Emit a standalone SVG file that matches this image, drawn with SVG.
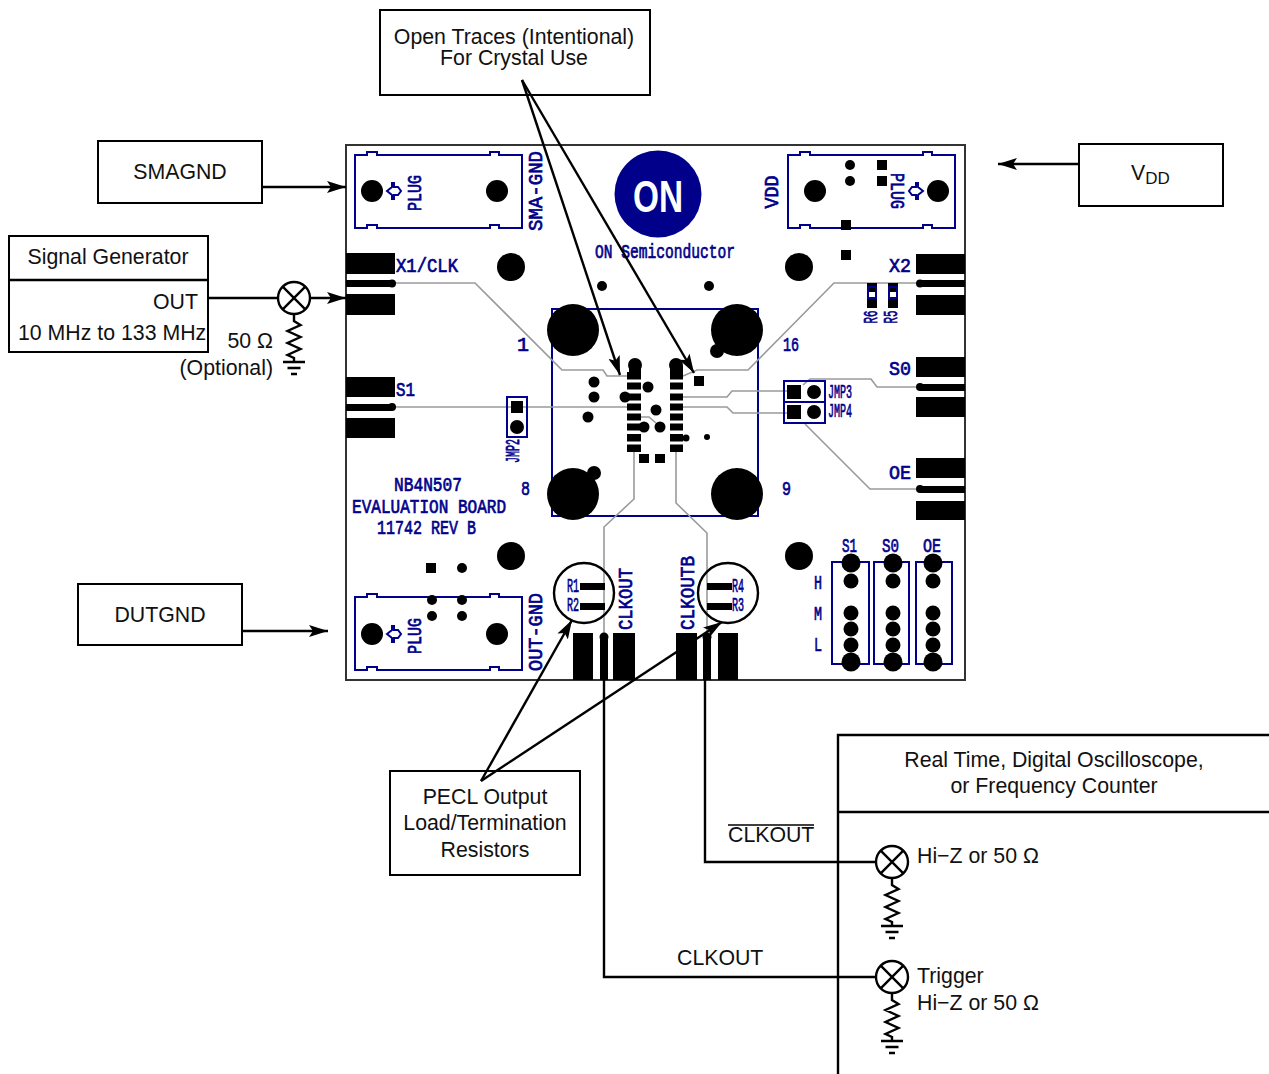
<svg xmlns="http://www.w3.org/2000/svg" xmlns:xlink="http://www.w3.org/1999/xlink" width="1269" height="1074" viewBox="0 0 1269 1074">
<style>
.box{fill:#fff;stroke:#000;stroke-width:2}
.ln{fill:none;stroke:#000;stroke-width:2.4}
.t{font-family:"Liberation Sans",Arial,sans-serif;font-size:21.300px;fill:#111}
.m{text-anchor:middle}
.e{text-anchor:end}
.b{font-family:"Liberation Mono","DejaVu Sans Mono",monospace;fill:#00008b;font-size:20px;stroke:#00008b;stroke-width:.7}
.bm{text-anchor:middle}
.nv{fill:none;stroke:#00008b;stroke-width:2}
.tr{fill:none;stroke:#9a9a9a;stroke-width:1.6}
.k{fill:#000}
.sy{fill:#fff;stroke:#000;stroke-width:2.4}
</style>
<defs>
<marker id="ah" markerUnits="userSpaceOnUse" markerWidth="20" markerHeight="12" refX="19" refY="6" orient="auto"><path d="M0 0L19 6L0 12L4 6Z" fill="#000"/></marker>
<g id="res"><path class="ln" d="M0 0V7L6.500 11L-6.500 17L6.500 23L-6.500 29L6.500 35L-6.500 41L0 44V48M-11 48H11M-6.500 54H6.500M-3 60H3"/></g>
<g id="cross"><circle class="sy" r="16"/><path class="ln" d="M-11.300 -11.300L11.300 11.300M-11.300 11.300L11.300 -11.300"/></g>
<path id="sma" class="nv" d="M0 0H12V-3H22V0H135V-3H144V0H167V73H144V70H135V73H22V70H12V73H0Z"/>
<path id="dia" class="nv" d="M-6 0L-1 -4V-8H1V-4H5L8 0L5 4H1V8H-1V4Z"/>
</defs>
<g id="board">
<rect x="346" y="145" width="619" height="535" fill="#fff" stroke="#333" stroke-width="2"/>
<rect x="552" y="309" width="206" height="207" class="nv"/>
<g class="tr">
<path d="M394 283H475L562 370H603L607 376H627"/>
<path d="M916 283H834L748 370H697L683 376"/>
<path d="M394 407H627"/>
<path d="M683 397H727L732 391H790"/>
<path d="M683 407H727L733 413H790"/>
<path d="M916 387H877L871 379H810L803 385"/>
<path d="M916 489H870L805 424"/>
<path d="M641 417H649L656 423"/>
<path d="M634 448V499L604 527V640"/>
<path d="M676 448V503L707 533V640"/>
</g>
<g id="pads" class="k">
<rect x="346" y="253" width="49" height="21"/><rect x="346" y="280" width="46" height="7"/><circle cx="392" cy="283.500" r="4"/><rect x="346" y="294" width="49" height="21"/>
<rect x="346" y="377" width="49" height="20"/><rect x="346" y="404" width="46" height="7"/><circle cx="392" cy="407" r="4"/><rect x="346" y="418" width="49" height="20"/>
<rect x="916" y="254" width="49" height="20"/><rect x="920" y="280" width="45" height="7"/><circle cx="920" cy="283.500" r="4"/><rect x="916" y="295" width="49" height="20"/>
<rect x="916" y="357" width="49" height="20"/><rect x="920" y="384" width="45" height="7"/><circle cx="920" cy="387" r="4"/><rect x="916" y="397" width="49" height="20"/>
<rect x="916" y="458" width="49" height="20"/><rect x="920" y="486" width="45" height="7"/><circle cx="920" cy="489" r="4"/><rect x="916" y="501" width="49" height="19"/>
<rect x="573" y="633" width="20" height="47"/><rect x="600" y="638" width="8" height="42"/><circle cx="604" cy="637" r="4.500"/><rect x="613" y="633" width="22" height="47"/>
<rect x="676" y="633" width="21" height="47"/><rect x="703" y="638" width="8" height="42"/><circle cx="707" cy="637" r="4.500"/><rect x="718" y="633" width="20" height="47"/>
</g>
<g id="holes" class="k">
<circle cx="573" cy="330" r="26"/><circle cx="737" cy="330" r="26"/><circle cx="717" cy="351" r="7"/>
<circle cx="573" cy="494" r="26"/><circle cx="594" cy="473" r="7"/><circle cx="737" cy="494" r="26"/>
<circle cx="511" cy="267" r="14"/><circle cx="799" cy="267" r="14"/><circle cx="511" cy="556" r="14"/><circle cx="799" cy="556" r="14"/>
<circle cx="602" cy="286" r="5"/><circle cx="709" cy="286" r="5"/>
</g>
<g id="chip" class="k">
<rect x="627" y="372" width="14" height="7.500"/><rect x="627" y="382.500" width="14" height="7"/><rect x="627" y="393.500" width="14" height="7"/><rect x="627" y="403.500" width="14" height="7"/><rect x="627" y="413.500" width="14" height="7"/><rect x="627" y="423.500" width="14" height="7"/><rect x="627" y="434" width="14" height="7.500"/><rect x="627" y="444.500" width="14" height="7.500"/>
<rect x="670" y="372" width="13" height="7.500"/><rect x="670" y="382.500" width="13" height="7"/><rect x="670" y="393.500" width="13" height="7"/><rect x="670" y="403.500" width="13" height="7"/><rect x="670" y="413.500" width="13" height="7"/><rect x="670" y="423.500" width="13" height="7"/><rect x="670" y="434" width="13" height="7.500"/><rect x="670" y="444.500" width="13" height="7.500"/>
<circle cx="635" cy="365" r="7"/><circle cx="676" cy="365" r="7"/>
<rect x="629" y="366" width="12" height="8"/><rect x="670" y="366" width="13" height="8"/>
<circle cx="594" cy="382" r="5.500"/><circle cx="594" cy="397" r="5.500"/><circle cx="588" cy="417" r="5.500"/><circle cx="625" cy="397" r="5.500"/><circle cx="648" cy="387" r="5.500"/><circle cx="656" cy="410" r="5.500"/><circle cx="644" cy="427" r="5.500"/><circle cx="660" cy="427" r="5.500"/>
<rect x="639" y="454" width="10" height="9"/><rect x="655" y="454" width="10" height="9"/><rect x="694" y="376" width="10" height="10"/><circle cx="686" cy="438" r="3.500"/><circle cx="707" cy="437" r="3"/>
</g>
<g id="logo">
<ellipse cx="658" cy="194" rx="43.500" ry="43.500" fill="#00008b"/>
<text x="658" y="212" font-family="Liberation Sans,Arial,sans-serif" font-size="44" font-weight="700" fill="#fff" text-anchor="middle" textLength="50" lengthAdjust="spacingAndGlyphs">ON</text>
<text class="b" x="595" y="258" font-size="16" textLength="140" lengthAdjust="spacingAndGlyphs">ON Semiconductor</text>
</g>
<g id="plug-sma">
<use xlink:href="#sma" href="#sma" x="355" y="155"/>
<circle class="k" cx="372" cy="191" r="11"/><circle class="k" cx="497" cy="191" r="11"/>
<use xlink:href="#dia" href="#dia" x="393" y="191"/>
<text class="b bm" transform="translate(421,193) rotate(-90)" font-size="17" textLength="36" lengthAdjust="spacingAndGlyphs">PLUG</text>
<text class="b bm" transform="translate(542,191) rotate(-90)" textLength="80" lengthAdjust="spacingAndGlyphs">SMA-GND</text>
</g>
<g id="plug-vdd">
<use xlink:href="#sma" href="#sma" x="788" y="155"/>
<circle class="k" cx="815" cy="191" r="11"/><circle class="k" cx="938" cy="191" r="11"/>
<use xlink:href="#dia" href="#dia" x="917" y="191" transform="rotate(180 917 191)"/>
<text class="b bm" transform="translate(891,191) rotate(90)" font-size="17" textLength="36" lengthAdjust="spacingAndGlyphs">PLUG</text>
<text class="b bm" transform="translate(778,192) rotate(-90)" textLength="33" lengthAdjust="spacingAndGlyphs">VDD</text>
<circle class="k" cx="850" cy="165" r="5"/><circle class="k" cx="850" cy="181" r="5"/><rect class="k" x="877" y="160" width="10" height="10"/><rect class="k" x="877" y="176" width="10" height="10"/><rect class="k" x="841" y="220" width="10" height="10"/><rect class="k" x="841" y="250" width="10" height="10"/>
</g>
<g id="plug-out">
<use xlink:href="#sma" href="#sma" x="355" y="597"/>
<circle class="k" cx="372" cy="634" r="11"/><circle class="k" cx="497" cy="634" r="11"/>
<use xlink:href="#dia" href="#dia" x="393" y="634"/>
<text class="b bm" transform="translate(421,636) rotate(-90)" font-size="17" textLength="36" lengthAdjust="spacingAndGlyphs">PLUG</text>
<text class="b bm" transform="translate(542,632) rotate(-90)" textLength="78" lengthAdjust="spacingAndGlyphs">OUT-GND</text>
<rect class="k" x="426" y="563" width="10" height="10"/><circle class="k" cx="462" cy="568" r="5"/><circle class="k" cx="432" cy="600" r="5"/><circle class="k" cx="462" cy="600" r="5"/><circle class="k" cx="432" cy="616" r="5"/><circle class="k" cx="462" cy="616" r="5"/>
</g>
<g id="jmp2">
<rect class="nv" x="507" y="397" width="20" height="40"/>
<rect class="k" x="511" y="401" width="12" height="12"/><circle class="k" cx="517" cy="427" r="7"/>
<text class="b bm" transform="translate(519,451) rotate(-90)" font-size="9" textLength="24" lengthAdjust="spacingAndGlyphs">JMP2</text>
</g>
<g id="jmp34">
<rect class="nv" x="784" y="381" width="41" height="42"/><path class="nv" d="M784 402H825"/>
<rect class="k" x="787" y="385" width="14" height="14"/><circle class="k" cx="814" cy="392" r="7"/><rect class="k" x="787" y="405" width="14" height="14"/><circle class="k" cx="814" cy="412" r="7"/>
<text class="b" x="828" y="398" font-size="9" textLength="24" lengthAdjust="spacingAndGlyphs">JMP3</text>
<text class="b" x="828" y="417" font-size="9" textLength="24" lengthAdjust="spacingAndGlyphs">JMP4</text>
</g>
<g id="r56">
<rect class="k" x="867" y="283" width="10" height="9"/><rect class="k" x="867" y="297" width="10" height="11"/><rect class="nv" x="868" y="287" width="8" height="11" stroke-width="1"/>
<rect class="k" x="888" y="283" width="10" height="9"/><rect class="k" x="888" y="297" width="10" height="11"/><rect class="nv" x="889" y="287" width="8" height="11" stroke-width="1"/>
<text class="b bm" transform="translate(877,317) rotate(-90)" font-size="10" textLength="13" lengthAdjust="spacingAndGlyphs">R6</text>
<text class="b bm" transform="translate(897,317) rotate(-90)" font-size="10" textLength="13" lengthAdjust="spacingAndGlyphs">R5</text>
</g>
<g id="board-text">
<text class="b" x="396" y="272" textLength="62" lengthAdjust="spacingAndGlyphs">X1/CLK</text>
<text class="b" x="396" y="396" textLength="19" lengthAdjust="spacingAndGlyphs">S1</text>
<text class="b" x="889" y="272" textLength="22" lengthAdjust="spacingAndGlyphs">X2</text>
<text class="b" x="889" y="375" textLength="22" lengthAdjust="spacingAndGlyphs">S0</text>
<text class="b" x="889" y="479" textLength="22" lengthAdjust="spacingAndGlyphs">OE</text>
<text class="b" x="517" y="351" font-size="18">1</text>
<text class="b" x="783" y="351" font-size="18" textLength="16" lengthAdjust="spacingAndGlyphs">16</text>
<text class="b" x="521" y="495" font-size="18" textLength="9" lengthAdjust="spacingAndGlyphs">8</text>
<text class="b" x="782" y="495" font-size="18" textLength="9" lengthAdjust="spacingAndGlyphs">9</text>
<text class="b" x="394" y="491" font-size="16" textLength="68" lengthAdjust="spacingAndGlyphs">NB4N507</text>
<text class="b" x="352" y="513" font-size="16" textLength="154" lengthAdjust="spacingAndGlyphs">EVALUATION BOARD</text>
<text class="b" x="377" y="534" font-size="16" textLength="99" lengthAdjust="spacingAndGlyphs">11742 REV B</text>
<text class="b bm" transform="translate(632,599) rotate(-90)" textLength="62" lengthAdjust="spacingAndGlyphs">CLKOUT</text>
<text class="b bm" transform="translate(694,593) rotate(-90)" textLength="74" lengthAdjust="spacingAndGlyphs">CLKOUTB</text>
<text class="b" x="842" y="552" font-size="14" textLength="15" lengthAdjust="spacingAndGlyphs">S1</text>
<text class="b" x="882" y="552" font-size="14" textLength="17" lengthAdjust="spacingAndGlyphs">S0</text>
<text class="b" x="923" y="552" font-size="14" textLength="18" lengthAdjust="spacingAndGlyphs">OE</text>
<text class="b" x="814" y="589" font-size="15" textLength="8" lengthAdjust="spacingAndGlyphs">H</text>
<text class="b" x="814" y="620" font-size="15" textLength="8" lengthAdjust="spacingAndGlyphs">M</text>
<text class="b" x="814" y="651" font-size="15" textLength="8" lengthAdjust="spacingAndGlyphs">L</text>
</g>
<g id="headers">
<rect class="nv" x="832" y="562" width="37" height="102"/><rect class="nv" x="874" y="562" width="35" height="102"/><rect class="nv" x="916" y="562" width="36" height="102"/>
<g class="k">
<circle cx="851" cy="563" r="9.500"/><circle cx="851" cy="581" r="7.500"/><circle cx="851" cy="613" r="7.500"/><circle cx="851" cy="629" r="7.500"/><circle cx="851" cy="645" r="7.500"/><circle cx="851" cy="662" r="9.500"/>
<circle cx="893" cy="563" r="9.500"/><circle cx="893" cy="581" r="7.500"/><circle cx="893" cy="613" r="7.500"/><circle cx="893" cy="629" r="7.500"/><circle cx="893" cy="645" r="7.500"/><circle cx="893" cy="662" r="9.500"/>
<circle cx="933" cy="563" r="9.500"/><circle cx="933" cy="581" r="7.500"/><circle cx="933" cy="613" r="7.500"/><circle cx="933" cy="629" r="7.500"/><circle cx="933" cy="645" r="7.500"/><circle cx="933" cy="662" r="9.500"/>
</g>
</g>
<g id="termination">
<rect class="k" x="580" y="583" width="25" height="7"/><rect class="k" x="580" y="603" width="25" height="7"/>
<rect class="k" x="707" y="583" width="25" height="7"/><rect class="k" x="707" y="603" width="25" height="7"/>
<text class="b" x="567" y="592" font-size="9" textLength="12" lengthAdjust="spacingAndGlyphs">R1</text>
<text class="b" x="567" y="611" font-size="9" textLength="12" lengthAdjust="spacingAndGlyphs">R2</text>
<text class="b" x="732" y="592" font-size="9" textLength="12" lengthAdjust="spacingAndGlyphs">R4</text>
<text class="b" x="732" y="611" font-size="9" textLength="12" lengthAdjust="spacingAndGlyphs">R3</text>
<circle cx="584" cy="593" r="30" fill="none" stroke="#000" stroke-width="2.400"/>
<circle cx="728" cy="593" r="30" fill="none" stroke="#000" stroke-width="2.400"/>
</g>
</g>
<g id="box-open"><rect class="box" x="380" y="10" width="270" height="85"/><text class="t m" x="514" y="44">Open Traces (Intentional)</text><text class="t m" x="514" y="65">For Crystal Use</text></g>
<g id="box-sma"><rect class="box" x="98" y="141" width="164" height="62"/><text class="t m" x="180" y="179">SMAGND</text></g>
<g id="box-vdd"><rect class="box" x="1079" y="144" width="144" height="62"/><text class="t" x="1131" y="180">V<tspan font-size="17" dy="4">DD</tspan></text></g>
<g id="box-dut"><rect class="box" x="78" y="584" width="164" height="61"/><text class="t m" x="160" y="622">DUTGND</text></g>
<g id="box-gen"><rect class="box" x="9" y="236" width="199" height="116"/><path class="ln" d="M9 280H208"/><text class="t m" x="108" y="264">Signal Generator</text><text class="t e" x="198" y="309">OUT</text><text class="t" x="18" y="340">10 MHz to 133 MHz</text></g>
<g id="box-pecl"><rect class="box" x="390" y="771" width="190" height="104"/><text class="t m" x="485" y="804">PECL Output</text><text class="t m" x="485" y="830">Load/Termination</text><text class="t m" x="485" y="857">Resistors</text></g>
<g id="scope"><path class="ln" d="M838 1074V735H1269M838 812H1269"/><text class="t m" x="1054" y="767">Real Time, Digital Oscilloscope,</text><text class="t m" x="1054" y="793">or Frequency Counter</text></g>
<g id="connectors">
<path class="ln" marker-end="url(#ah)" d="M262 187H346"/>
<path class="ln" marker-end="url(#ah)" d="M1079 164H998"/>
<path class="ln" marker-end="url(#ah)" d="M243 631H328"/>
<path class="ln" d="M208 298H278"/>
<path class="ln" marker-end="url(#ah)" d="M310 298H346"/>
<path class="ln" marker-end="url(#ah)" d="M522 80L620 375"/>
<path class="ln" marker-end="url(#ah)" d="M522 80L694 373"/>
<path class="ln" marker-end="url(#ah)" d="M481 781L572 620"/>
<path class="ln" marker-end="url(#ah)" d="M481 781L722 622"/>
<path class="ln" d="M705 680V862H876"/>
<path class="ln" d="M604 680V977H876"/>
</g>
<g id="load-gen"><use xlink:href="#cross" href="#cross" x="294" y="298"/><use xlink:href="#res" href="#res" x="294" y="314"/><text class="t e" x="273" y="348">50 Ω</text><text class="t e" x="273" y="375">(Optional)</text></g>
<g id="load-clkb"><use xlink:href="#cross" href="#cross" x="892" y="862"/><use xlink:href="#res" href="#res" x="892" y="878"/><text class="t" x="917" y="863">Hi−Z or 50 Ω</text><text class="t" x="728" y="842">CLKOUT</text><path d="M728 825H814" stroke="#000" stroke-width="1.500"/></g>
<g id="load-clk"><use xlink:href="#cross" href="#cross" x="892" y="977"/><use xlink:href="#res" href="#res" x="892" y="993"/><text class="t" x="917" y="983">Trigger</text><text class="t" x="917" y="1010">Hi−Z or 50 Ω</text><text class="t" x="677" y="965">CLKOUT</text></g>
</svg>
